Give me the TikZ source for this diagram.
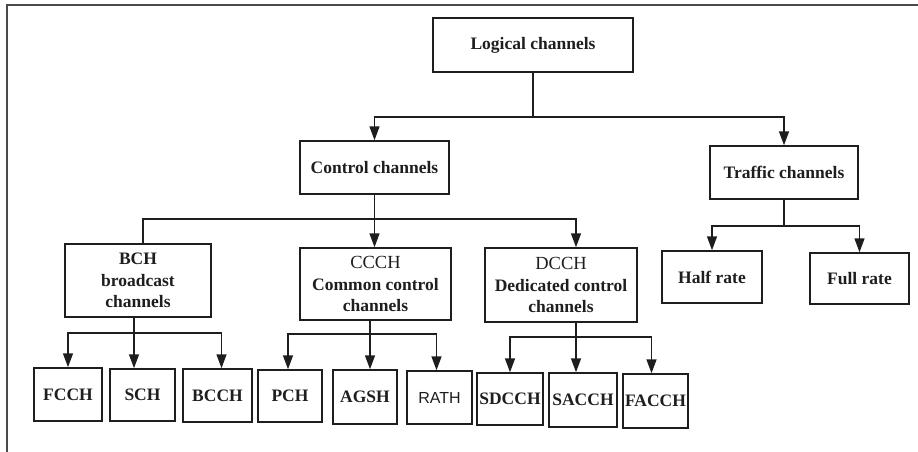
\documentclass[tikz,border=0pt]{standalone}
\usepackage{fontspec}
\setmainfont{Liberation Serif}
\newfontfamily\labelsans{Liberation Sans}
\usetikzlibrary{arrows.meta}
\definecolor{ink}{HTML}{1E1E1E}
\definecolor{framegray}{HTML}{4A4A4A}
\tikzset{
  chbox/.style={draw=ink, line width=1.5pt, inner sep=0pt, align=center, text=ink,
    font=\bfseries\fontsize{17.5}{21.5}\selectfont},
  link/.style={draw=ink, line width=1.5pt},
  arr/.style={link, -{Triangle[width=10pt,length=14pt]}},
}
\begin{document}
\begin{tikzpicture}[x=1pt, y=-1pt]
\useasboundingbox (0,0) rectangle (918,452);
% page frame (left and top edges only)
\draw[framegray, line width=2pt] (7,452) -- (7,5) -- (918,5);

% top levels
\node[chbox, minimum width=200pt, minimum height=54pt] (log)  at (533,45)    {Logical channels};
\node[chbox, minimum width=149pt, minimum height=53pt] (ctrl) at (374.5,167.5) {Control channels};
\node[chbox, minimum width=148pt, minimum height=53pt] (traf) at (784,172.5)  {Traffic channels};

% control channel groups
\node[chbox, line width=2.2pt, minimum width=146pt, minimum height=73pt] (bch) at (138,280.5)
  {BCH\\broadcast\\channels};
\node[chbox, minimum width=151pt, minimum height=72pt] (ccch) at (375.5,284)
  {{\mdseries\fontsize{18.5}{21.5}\selectfont CCCH}\\Common control\\channels};
\node[chbox, minimum width=152pt, minimum height=74pt] (dcch) at (561,285)
  {{\mdseries\fontsize{18.5}{21.5}\selectfont DCCH}\\Dedicated control\\channels};

% traffic channel rates
\node[chbox, minimum width=100pt, minimum height=52pt] (half) at (712,277)   {Half rate};
\node[chbox, minimum width=99pt,  minimum height=51pt] (full) at (859.5,278.5) {Full rate};

% individual channels
\node[chbox, minimum width=68pt, minimum height=53pt] (fcch)  at (68,394.5)  {FCCH};
\node[chbox, minimum width=65pt, minimum height=52pt] (sch)   at (142.5,395) {SCH};
\node[chbox, minimum width=69pt, minimum height=53pt] (bcch)  at (217.5,395.5) {BCCH};
\node[chbox, minimum width=64pt, minimum height=52pt] (pch)   at (290,396)   {PCH};
\node[chbox, minimum width=64pt, minimum height=54pt] (agsh)  at (365,397)   {AGSH};
\node[chbox, minimum width=65pt, minimum height=53pt, font=\labelsans\fontsize{16}{19}\selectfont] (rath) at (439.5,397.5) {RATH};
\node[chbox, minimum width=66pt, minimum height=52pt] (sdcch) at (510,399)   {SDCCH};
\node[chbox, minimum width=68pt, minimum height=54pt] (sacch) at (583,400)   {SACCH};
\node[chbox, minimum width=65pt, minimum height=54pt] (facch) at (655.5,401) {FACCH};

% logical channels -> control / traffic
\coordinate (lbar) at (533,117);
\draw[link] (log.south) -- (lbar);
\draw[arr] (lbar) -| (ctrl.north);
\draw[arr] (lbar) -| (traf.north);

% control channels -> BCH / CCCH / DCCH
\coordinate (cbar) at (374.5,219);
\draw[link] (ctrl.south) -- (cbar);
\draw[link] (cbar) -| ([xshift=5pt]bch.north);
\draw[arr] (cbar) -- (cbar |- ccch.north);
\draw[arr] (cbar) -| ([xshift=15pt]dcch.north);

% traffic channels -> half / full rate
\coordinate (tbar) at (784,226);
\draw[link] (traf.south) -- (tbar);
\draw[arr] (tbar) -| (half.north);
\draw[arr] (tbar) -| (full.north);

% BCH -> FCCH / SCH / BCCH
\coordinate (bbar) at (134,333);
\draw[link] (bbar |- bch.south) -- (bbar);
\draw[arr] (bbar) -| (fcch.north);
\draw[arr] (bbar) -- (bbar |- sch.north);
\draw[arr] (bbar) -| ([xshift=4pt]bcch.north);

% CCCH -> PCH / AGSH / RATH
\coordinate (ccbar) at (370,334);
\draw[link] (ccbar |- ccch.south) -- (ccbar);
\draw[arr] (ccbar) -| ([xshift=-2pt]pch.north);
\draw[arr] (ccbar) -- (ccbar |- agsh.north);
\draw[arr] (ccbar) -| ([xshift=-3pt]rath.north);

% DCCH -> SDCCH / SACCH / FACCH
\coordinate (dbar) at (576,337);
\draw[link] (dbar |- dcch.south) -- (dbar);
\draw[arr] (dbar) -| (sdcch.north);
\draw[arr] (dbar) -- (dbar |- sacch.north);
\draw[arr] (dbar) -| ([xshift=-4pt]facch.north);
\end{tikzpicture}
\end{document}
